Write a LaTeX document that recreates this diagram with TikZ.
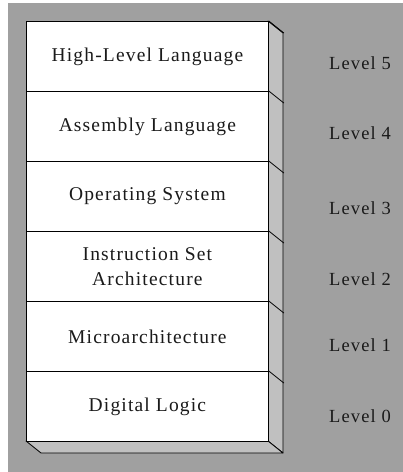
\documentclass[tikz,border=0pt]{standalone}
\usepackage{fontspec}
\setmainfont{Liberation Serif}[LetterSpace=6]
\definecolor{bggray}{HTML}{A0A0A0}
\definecolor{sidegray}{HTML}{C0C0C0}
\definecolor{txt}{HTML}{1A1A1A}
\begin{document}
\begin{tikzpicture}[x=1pt,y=-1pt,
  layerbox/.style={draw=black, fill=white, line width=0.8pt, minimum width=242pt, minimum height=70pt, inner sep=0pt, anchor=north west, align=center, text=txt, font=\fontsize{19.5}{24.5}\selectfont},
  levellabel/.style={text=txt, font=\fontsize{18.5}{20}\selectfont, inner sep=0pt},
  face/.style={draw=black, fill=sidegray, line width=0.8pt, line join=round}]
\useasboundingbox (0,0) rectangle (403,472);
\fill[white] (0,0) rectangle (403,472);
\fill[bggray] (8,3) rectangle (403,472);
% side and bottom faces
\draw[face] (268,21) -- (283,33) -- (283,453) -- (268,441) -- cycle;
\draw[face] (26,441) -- (268,441) -- (283,453) -- (41,453) -- cycle;
% layers
\node[layerbox] (l5) at (26,21) {High-Level Language};
\node[layerbox] (l4) at (26,91) {Assembly Language};
\node[layerbox] (l3) at (26,161) {Operating System};
\node[layerbox] (l2) at (26,231) {Instruction Set\\Architecture};
\node[layerbox] (l1) at (26,301) {Microarchitecture};
\node[layerbox] (l0) at (26,371) {Digital Logic};
% depth edges
\foreach \n in {l5,l4,l3,l2,l1,l0}{
  \draw[line width=0.8pt] (\n.north east) -- ++(15,12);
}
% level labels
\node[levellabel] (v5) at (360,63) {Level 5};
\node[levellabel] (v4) at (360,133) {Level 4};
\node[levellabel] (v3) at (360,208) {Level 3};
\node[levellabel] (v2) at (360,279) {Level 2};
\node[levellabel] (v1) at (360,345) {Level 1};
\node[levellabel] (v0) at (360,416) {Level 0};
\end{tikzpicture}
\end{document}
